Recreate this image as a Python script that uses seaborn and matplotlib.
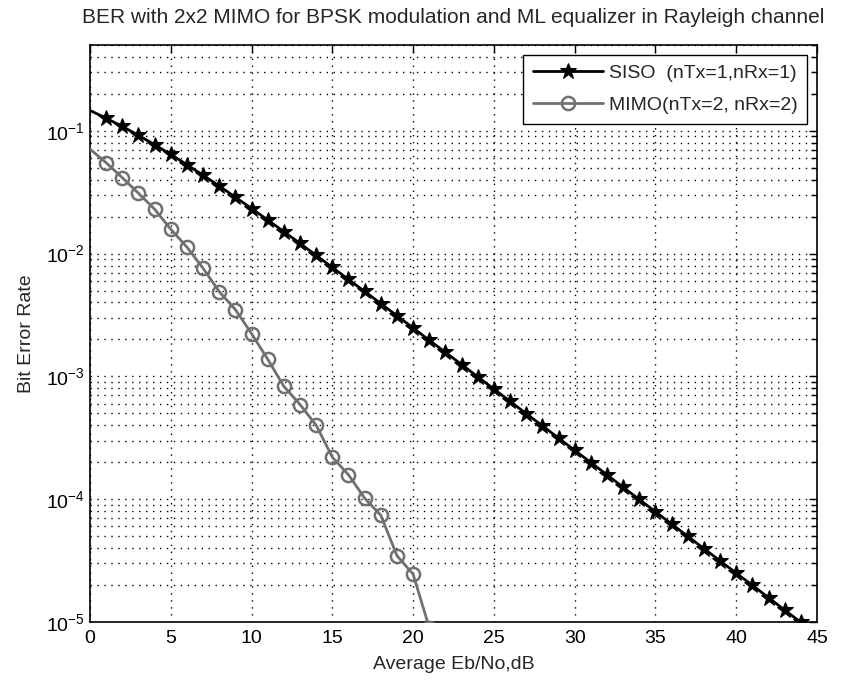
import numpy as np
import pandas as pd
import matplotlib
matplotlib.use("Agg")
import matplotlib.pyplot as plt
import seaborn as sns
from matplotlib.ticker import LogLocator, NullFormatter, MultipleLocator

# ---- data ----
siso_snr = list(range(0, 45))
siso_ber = [0.1465, 0.1267, 0.1085, 0.0919, 0.0771, 0.0642, 0.0530, 0.0435, 0.0355,
            0.0288, 0.0233, 0.0188, 0.0151, 0.0121, 0.00967, 0.00772, 0.00616,
            0.00492, 0.00392, 0.00312, 0.00248, 0.00197, 0.00157, 0.00125,
            0.000992, 0.000789, 0.000627, 0.000498, 0.000396, 0.000315, 0.000250,
            0.000199, 0.000158, 0.000125, 9.95e-5, 7.91e-5, 6.28e-5, 4.99e-5,
            3.96e-5, 3.15e-5, 2.50e-5, 1.99e-5, 1.58e-5, 1.25e-5, 9.95e-6]

mimo_snr = list(range(0, 22))
mimo_ber = [0.071, 0.055, 0.0415, 0.031, 0.023, 0.0158, 0.0113, 0.0076, 0.0049,
            0.0035, 0.00223, 0.00138, 0.00083, 0.00059, 0.00040, 0.00022,
            0.000158, 0.000102, 7.4e-5, 3.47e-5, 2.45e-5, 9.0e-6]

siso_label = "SISO  (nTx=1,nRx=1)"
mimo_label = "MIMO(nTx=2, nRx=2)"
title = "BER with 2x2 MIMO for BPSK modulation and ML equalizer in Rayleigh channel"
xlabel = "Average Eb/No,dB"
ylabel = "Bit Error Rate"

sns.set_style("white")
plt.rcParams["font.family"] = ["Liberation Sans", "DejaVu Sans"]
plt.rcParams["mathtext.fontset"] = "custom"
plt.rcParams["mathtext.rm"] = "Liberation Sans"
plt.rcParams["mathtext.it"] = "Liberation Sans"

fig = plt.figure(figsize=(8.42, 6.83), dpi=100)
ax = fig.add_axes([0.1069, 0.0893, 0.9703 - 0.1069, 0.9341 - 0.0893])

df_siso = pd.DataFrame({"snr": siso_snr, "ber": siso_ber})
df_mimo = pd.DataFrame({"snr": mimo_snr, "ber": mimo_ber})

sns.lineplot(data=df_siso, x="snr", y="ber", ax=ax, color="black", linewidth=2.0,
             marker="*", markersize=12, markeredgecolor="black", markerfacecolor="black",
             markevery=slice(1, None), label=siso_label, zorder=4)
sns.lineplot(data=df_mimo, x="snr", y="ber", ax=ax, color="#707070", linewidth=2.0,
             marker="o", markersize=9.5, markeredgewidth=1.8, markeredgecolor="#707070",
             markerfacecolor="none", markevery=slice(1, None), label=mimo_label, zorder=3)

ax.set_yscale("log")
ax.set_xlim(0, 45)
ax.set_ylim(1e-5, 0.5)
ax.xaxis.set_major_locator(MultipleLocator(5))
ax.yaxis.set_major_locator(LogLocator(base=10, numticks=10))
ax.yaxis.set_minor_locator(LogLocator(base=10, subs=np.arange(2, 10), numticks=20))
ax.yaxis.set_minor_formatter(NullFormatter())

grid_kw = dict(color="black", linestyle=(0, (1, 4)), linewidth=1.0)
ax.grid(True, which="major", axis="both", **grid_kw)
ax.grid(True, which="minor", axis="y", **grid_kw)

ax.tick_params(axis="both", which="both", direction="in", top=True, right=True,
               labelsize=14, colors="black")
ax.tick_params(axis="x", which="major", pad=6)
ax.tick_params(which="major", length=6, width=1)
ax.tick_params(which="minor", length=4, width=1)
for s in ax.spines.values():
    s.set_color("black")
    s.set_linewidth(1.2)

ax.set_title(title, fontsize=15, pad=16)
ax.set_xlabel(xlabel, fontsize=14, labelpad=6)
ax.set_ylabel(ylabel, fontsize=14, labelpad=8)

leg = ax.legend(loc="upper right", fontsize=14, frameon=True, fancybox=False,
                edgecolor="black", framealpha=1, borderaxespad=0.5,
                handlelength=3.6, borderpad=0.5, labelspacing=0.75, handletextpad=0.3)
leg.get_frame().set_linewidth(1.0)

fig.savefig("out.png", dpi=100, facecolor="white")
